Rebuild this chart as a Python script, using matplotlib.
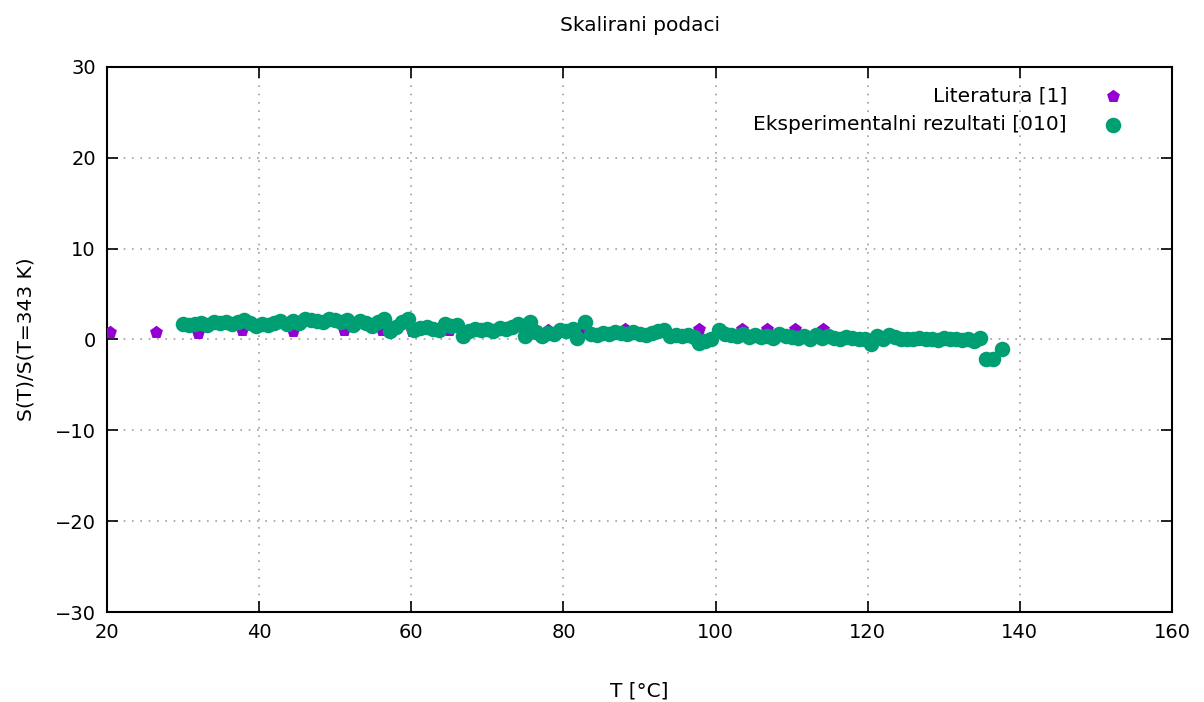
import matplotlib.pyplot as plt

# Literatura [1]
lit_t = [20.4, 26.4, 32.0, 37.8, 44.5, 51.2, 56.2, 60.1, 65.0, 75.2, 78.0,
         82.8, 88.1, 93.4, 97.8, 103.5, 106.8, 110.4, 114.1]
lit_s = [0.8, 0.8, 0.7, 1.0, 0.9, 1.0, 1.0, 0.9, 1.0, 1.0, 1.0,
         1.0, 1.1, 1.0, 1.1, 1.1, 1.1, 1.1, 1.1]

# Eksperimentalni rezultati [010]
exp_t = [30.0, 30.8, 31.6, 32.4, 33.2, 34.0, 34.8, 35.6, 36.4, 37.2,
         38.0, 38.8, 39.6, 40.4, 41.2, 42.0, 42.8, 43.6, 44.4, 45.2,
         46.0, 46.8, 47.6, 48.4, 49.2, 50.0, 50.8, 51.6, 52.4, 53.2,
         54.0, 54.8, 55.6, 56.4, 57.2, 58.0, 58.8, 59.6, 60.4, 61.2,
         62.0, 62.8, 63.6, 64.4, 65.2, 66.0, 66.8, 67.6, 68.4, 69.2,
         70.0, 70.8, 71.6, 72.4, 73.2, 74.0, 75.0, 75.6, 76.4, 77.2,
         78.0, 78.8, 79.6, 80.4, 81.2, 81.8, 82.8, 83.6, 84.4, 85.2,
         86.0, 86.8, 87.6, 88.4, 89.2, 90.0, 90.8, 91.6, 92.4, 93.2,
         94.0, 94.8, 95.6, 96.4, 97.2, 97.8, 98.6, 99.4, 100.4, 101.2,
         102.0, 102.8, 103.6, 104.4, 105.2, 106.0, 106.8, 107.6, 108.4, 109.2,
         110.0, 110.8, 111.6, 112.4, 113.2, 114.0, 114.8, 115.6, 116.4, 117.2,
         118.0, 118.8, 119.6, 120.4, 121.2, 122.0, 122.8, 123.6, 124.4, 125.2,
         126.0, 126.8, 127.6, 128.4, 129.2, 130.0, 130.8, 131.6, 132.4, 133.2,
         134.0, 134.8, 135.6, 136.5, 137.7]
exp_s = [1.7, 1.6, 1.7, 1.8, 1.6, 1.9, 1.8, 1.9, 1.7, 1.9,
         2.1, 1.8, 1.5, 1.7, 1.6, 1.8, 2.0, 1.7, 2.0, 1.8,
         2.3, 2.1, 2.0, 1.9, 2.3, 2.1, 1.9, 2.2, 1.6, 2.0,
         1.8, 1.5, 1.9, 2.3, 0.9, 1.4, 1.9, 2.3, 1.0, 1.3,
         1.4, 1.2, 1.0, 1.7, 1.5, 1.6, 0.4, 0.9, 1.2, 1.0,
         1.1, 0.9, 1.3, 1.2, 1.4, 1.7, 0.4, 1.9, 0.8, 0.4,
         0.7, 0.6, 1.0, 0.9, 1.2, 0.2, 1.9, 0.6, 0.5, 0.7,
         0.6, 0.8, 0.7, 0.6, 0.8, 0.6, 0.5, 0.7, 0.9, 1.0,
         0.4, 0.5, 0.4, 0.5, 0.3, -0.4, -0.2, 0.1, 1.0, 0.6,
         0.5, 0.4, 0.6, 0.3, 0.5, 0.3, 0.4, 0.2, 0.6, 0.4,
         0.3, 0.2, 0.4, 0.0, 0.5, 0.2, 0.4, 0.2, 0.1, 0.3,
         0.2, 0.0, 0.1, -0.5, 0.4, 0.0, 0.5, 0.3, 0.0, 0.1,
         0.0, 0.2, 0.0, 0.1, -0.1, 0.2, 0.0, 0.1, -0.1, 0.1,
         -0.2, 0.2, -2.2, -2.1, -1.1]

fs = 14.5

fig = plt.figure(figsize=(12.04, 7.02), dpi=100)
ax = fig.add_axes([0.0889, 0.1282, 0.8845, 0.7764])

ax.scatter(lit_t, lit_s, marker='p', s=95, color='#9400d3', linewidths=0,
           label='Literatura [1]', zorder=3)
ax.scatter(exp_t, exp_s, marker='o', s=125, color='#009e73', linewidths=0,
           label='Eksperimentalni rezultati [010]', zorder=4)

ax.set_xlim(20, 160)
ax.set_ylim(-30, 30)
ax.set_xticks(range(20, 161, 20))
ax.set_yticks(range(-30, 31, 10))
ax.grid(True, color='#a0a0a0', linestyle=(0, (1, 4)), linewidth=1.2)
ax.tick_params(direction='in', length=8, width=1.2, labelsize=14,
               top=True, right=True, pad=8)
for sp in ax.spines.values():
    sp.set_linewidth(1.5)

ax.set_xlabel('T [°C]', fontsize=fs, labelpad=28)
ax.set_ylabel('S(T)/S(T=343 K)', fontsize=fs, labelpad=14)
ax.set_title('Skalirani podaci', fontsize=fs, pad=26)

ax.legend(loc='upper right', bbox_to_anchor=(0.9544, 0.965), frameon=False,
          markerfirst=False, fontsize=fs, handlelength=1.0, handletextpad=1.8,
          borderpad=0, borderaxespad=0, labelspacing=0.5)

fig.savefig('out.png', dpi=100)
